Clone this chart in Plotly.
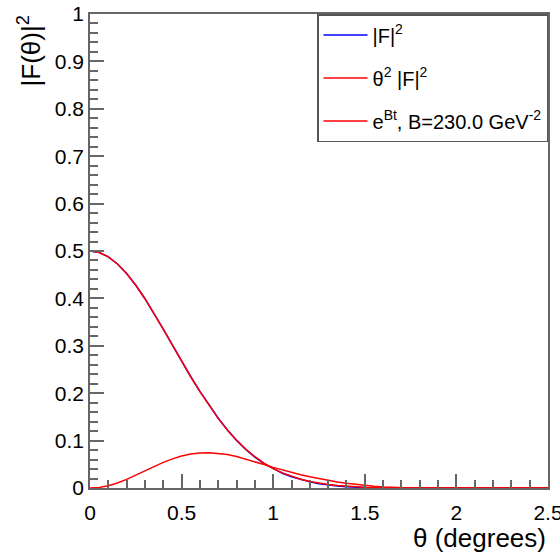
import plotly.graph_objects as go

# theta grid (degrees)
theta = [0.00, 0.05, 0.10, 0.15, 0.20, 0.25, 0.30, 0.35, 0.40, 0.45,
         0.50, 0.55, 0.60, 0.65, 0.70, 0.75, 0.80, 0.85, 0.90, 0.95,
         1.00, 1.05, 1.10, 1.15, 1.20, 1.25, 1.30, 1.35, 1.40, 1.45,
         1.50, 1.55, 1.60, 1.65, 1.70, 1.75, 1.80, 2.00, 2.25, 2.50]

# |F|^2
f2 = [0.5000, 0.4969, 0.4877, 0.4727, 0.4524, 0.4277, 0.3993, 0.3681, 0.3352, 0.3014,
      0.2676, 0.2347, 0.2040, 0.1745, 0.1472, 0.1225, 0.1005, 0.0815, 0.0652, 0.0516,
      0.0405, 0.0312, 0.0238, 0.0178, 0.0130, 0.0092, 0.0062, 0.0040, 0.0024, 0.0013,
      0.0006, 0.0002, 0.0000, 0.0000, 0.0000, 0.0000, 0.0000, 0.0000, 0.0000, 0.0000]

# theta^2 |F|^2
th2f2 = [0.0000, 0.0012, 0.0049, 0.0107, 0.0183, 0.0271, 0.0363, 0.0455, 0.0540, 0.0614,
         0.0675, 0.0717, 0.0740, 0.0746, 0.0733, 0.0705, 0.0665, 0.0613, 0.0555, 0.0495,
         0.0435, 0.0380, 0.0328, 0.0280, 0.0236, 0.0196, 0.0160, 0.0128, 0.0100, 0.0075,
         0.0054, 0.0037, 0.0023, 0.0012, 0.0005, 0.0001, 0.0000, 0.0000, 0.0000, 0.0000]

# e^{Bt}, B = 230 GeV^-2
ebt = [0.5000, 0.4969, 0.4877, 0.4727, 0.4524, 0.4277, 0.3993, 0.3681, 0.3352, 0.3014,
       0.2676, 0.2347, 0.2033, 0.1739, 0.1469, 0.1225, 0.1009, 0.0821, 0.0660, 0.0524,
       0.0410, 0.0318, 0.0243, 0.0183, 0.0137, 0.0101, 0.0073, 0.0053, 0.0037, 0.0026,
       0.0018, 0.0012, 0.0008, 0.0006, 0.0004, 0.0002, 0.0001, 0.0000, 0.0000, 0.0000]

names = ["|F|<sup>2</sup>", "θ<sup>2</sup> |F|<sup>2</sup>", "e<sup>Bt</sup>, B=230.0 GeV<sup>-2</sup>"]
colors = ["#0000ff", "#ff0000", "#ff0000"]

FONT = "Liberation Sans, Arial, Helvetica, sans-serif"

fig = go.Figure()
for i, ys in enumerate([f2, th2f2, ebt]):
    fig.add_trace(go.Scatter(x=theta, y=ys, mode="lines", name=names[i],
                             line=dict(color=colors[i], width=1.5),
                             legendgroup=f"g{i}"))

axis_common = dict(showline=True, linecolor="#666666", linewidth=1.5, mirror=True,
                   ticks="inside", tickcolor="#666666", tickwidth=1.5,
                   showgrid=False, zeroline=False, automargin=False,
                   ticklabeloverflow="allow",
                   tickfont=dict(family=FONT, size=21, color="black"))

fig.update_xaxes(range=[0, 2.5], dtick=0.5, tick0=0, ticklen=14,
                 minor=dict(dtick=0.1, ticks="inside", ticklen=8, tickcolor="#666666", tickwidth=1.5),
                 ticklabelstandoff=5, **axis_common)
fig.update_yaxes(range=[0, 1], dtick=0.1, tick0=0, ticklen=14,
                 minor=dict(dtick=0.02, ticks="inside", ticklen=8, tickcolor="#666666", tickwidth=1.5),
                 **axis_common)

fig.update_layout(
    width=560, height=553,
    margin=dict(l=90, r=12, t=14, b=65, autoexpand=False),
    plot_bgcolor="white", paper_bgcolor="white",
    font=dict(family=FONT, color="black"),
    legend=dict(x=1, y=1, xanchor="right", yanchor="top",
                bordercolor="#555555", borderwidth=1.5, bgcolor="white",
                font=dict(family=FONT, size=20, color="black"),
                itemwidth=44, tracegroupgap=14),
    annotations=[
        dict(text="|F(θ)|<sup>2</sup>", xref="paper", yref="paper",
             x=-0.131, y=1.0, xanchor="center", yanchor="top", textangle=-90,
             showarrow=False, font=dict(family=FONT, size=26, color="black")),
        dict(text="θ (degrees)", xref="paper", yref="paper",
             x=1.0, y=-0.07, xanchor="right", yanchor="top",
             showarrow=False, font=dict(family=FONT, size=26, color="black")),
    ],
)

# remove the default 8px page margin so the 560x553 figure fills the window
fig.write_html("out.html",
               config={"displayModeBar": False},
               post_script="document.body.style.margin='0';document.body.style.overflow='hidden';")
